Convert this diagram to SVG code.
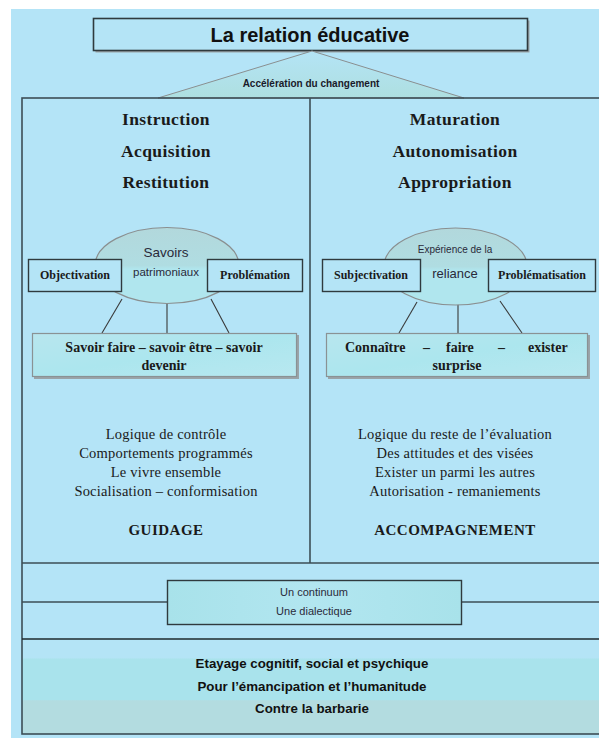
<svg xmlns="http://www.w3.org/2000/svg" width="599" height="738" viewBox="0 0 599 738">
<defs>
<linearGradient id="triG" x1="0" y1="0" x2="0" y2="1">
<stop offset="0" stop-color="#b4e4f6"/>
<stop offset="1" stop-color="#aedfe0"/>
</linearGradient>
<linearGradient id="ellG" x1="0" y1="0" x2="0" y2="1">
<stop offset="0" stop-color="#b2d8dc"/>
<stop offset="0.5" stop-color="#b0dde2"/>
<stop offset="0.55" stop-color="#b0e6ee"/>
<stop offset="1" stop-color="#b0e6ee"/>
</linearGradient>
<linearGradient id="boxG" x1="0" y1="0" x2="1" y2="1">
<stop offset="0" stop-color="#b8e6ee"/>
<stop offset="0.5" stop-color="#ace6ee"/>
<stop offset="1" stop-color="#b8e8f0"/>
</linearGradient>
<linearGradient id="contG" x1="0" y1="0" x2="1" y2="0">
<stop offset="0" stop-color="#a8e2ea"/>
<stop offset="0.5" stop-color="#b2e6f0"/>
<stop offset="1" stop-color="#a8e2ea"/>
</linearGradient>
<linearGradient id="botG" x1="0" y1="0" x2="0" y2="1">
<stop offset="0" stop-color="#b4e4f6"/>
<stop offset="0.2" stop-color="#b4e4f6"/>
<stop offset="0.21" stop-color="#a9e3ec"/>
<stop offset="0.64" stop-color="#a9e3ec"/>
<stop offset="0.65" stop-color="#b3dce0"/>
<stop offset="1" stop-color="#b3dce0"/>
</linearGradient>
</defs>
<style>
.frame{fill:none;stroke:#3d4e56;stroke-width:1.6}
.sbox{fill:#b4e4f6;stroke:#2f3a3e;stroke-width:1.4}
.ell{fill:url(#ellG);stroke:#8a8f90;stroke-width:1.2}
.lbox{fill:url(#boxG);stroke:#8a9294;stroke-width:1.2}
.shadow{fill:#9aa4a8}
.conn{stroke:#3a3a3a;stroke-width:1.1;fill:none}
.h{font-family:"Liberation Serif","Times New Roman",serif;font-weight:bold;font-size:17.5px;fill:#1a1a1a;text-anchor:middle;letter-spacing:0.4px}
.lab{font-family:"Liberation Serif","Times New Roman",serif;font-weight:bold;font-size:12px;fill:#1a1a1a;text-anchor:middle}
.bt{font-family:"Liberation Serif","Times New Roman",serif;font-weight:bold;font-size:14px;fill:#1a1a1a;text-anchor:middle}
.lt{font-family:"Liberation Serif","Times New Roman",serif;font-size:14.5px;fill:#1a1a1a;text-anchor:middle;letter-spacing:0.2px}
.cap{font-family:"Liberation Serif","Times New Roman",serif;font-weight:bold;font-size:15px;fill:#1a1a1a;text-anchor:middle;letter-spacing:0.5px}
.sans{font-family:"Liberation Sans",Arial,sans-serif;fill:#2a2a3a;text-anchor:middle}
.et{font-family:"Liberation Sans",Arial,sans-serif;font-size:13.3px;font-weight:bold;fill:#111;text-anchor:middle}
</style>
<rect x="11" y="9" width="588" height="729" fill="#b4e4f7"/>

<g id="title">
<rect x="95.5" y="20.5" width="434" height="32" class="shadow"/>
<rect x="93.5" y="18.5" width="434" height="32" fill="#b4e4f6" stroke="#2f3a3e" stroke-width="1.6"/>
<text x="310" y="42" class="sans" style="font-size:20px;font-weight:bold;fill:#111">La relation éducative</text>
</g>

<g id="acceleration">
<polygon points="312,51 158,98 464,98" fill="url(#triG)" stroke="#8a8f90" stroke-width="1"/>
<text x="311" y="86.5" class="sans" style="font-size:10px;font-weight:bold;fill:#1a1a2a">Accélération du changement</text>
</g>

<g id="bottom-section">
<rect x="22" y="639" width="600" height="95" fill="url(#botG)"/>
</g>

<g id="frame">
<rect x="22" y="98" width="600" height="636" class="frame"/>
<line x1="310" y1="98" x2="310" y2="563" class="frame"/>
<line x1="22" y1="563" x2="605" y2="563" class="frame"/>
<line x1="22" y1="639" x2="605" y2="639" stroke="#1e2a2e" stroke-width="1.6"/>
<line x1="22" y1="602" x2="167" y2="602" class="frame"/>
<line x1="462" y1="602" x2="605" y2="602" class="frame"/>
</g>

<g id="left-headings">
<text x="166" y="125" class="h">Instruction</text>
<text x="166" y="157" class="h">Acquisition</text>
<text x="166" y="188" class="h">Restitution</text>
</g>

<g id="right-headings">
<text x="455" y="125" class="h">Maturation</text>
<text x="455" y="157" class="h">Autonomisation</text>
<text x="455" y="188" class="h">Appropriation</text>
</g>

<g id="connectors">
<line x1="122" y1="299" x2="102" y2="333" class="conn"/>
<line x1="167" y1="303" x2="167" y2="333" class="conn"/>
<line x1="211" y1="299" x2="229" y2="333" class="conn"/>
<line x1="417" y1="302" x2="399" y2="333" class="conn"/>
<line x1="458" y1="304" x2="458" y2="333" class="conn"/>
<line x1="500" y1="301" x2="522" y2="333" class="conn"/>
</g>

<g id="savoirs-patrimoniaux">
<ellipse cx="167" cy="265.5" rx="72" ry="38" class="ell"/>
<text x="166" y="257" class="sans" style="font-size:13.5px">Savoirs</text>
<text x="166" y="276" class="sans" style="font-size:11.5px">patrimoniaux</text>
</g>

<g id="objectivation">
<rect x="28.5" y="259.5" width="93" height="32" class="sbox"/>
<text x="75" y="279" class="lab">Objectivation</text>
</g>

<g id="problemation">
<rect x="207.5" y="259.5" width="95" height="32" class="sbox"/>
<text x="255" y="279" class="lab">Problémation</text>
</g>

<g id="savoir-faire">
<rect x="34" y="335" width="265" height="44" class="shadow"/>
<rect x="32.5" y="333.5" width="264" height="43" class="lbox"/>
<text x="164" y="352" class="bt">Savoir faire – savoir être – savoir</text>
<text x="164" y="370" class="bt">devenir</text>
</g>

<g id="experience-reliance">
<ellipse cx="455.5" cy="266.5" rx="71.5" ry="38.5" class="ell"/>
<text x="455" y="252.5" class="sans" style="font-size:10px">Expérience de la</text>
<text x="455" y="277.5" class="sans" style="font-size:13px">reliance</text>
</g>

<g id="subjectivation">
<rect x="322.5" y="259.5" width="98" height="32" class="sbox"/>
<text x="371" y="279" class="lab">Subjectivation</text>
</g>

<g id="problematisation">
<rect x="488.5" y="259.5" width="107" height="32" class="sbox"/>
<text x="542" y="279" class="lab">Problématisation</text>
</g>

<g id="connaitre">
<rect x="328" y="335" width="262" height="44" class="shadow"/>
<rect x="326.5" y="333.5" width="261" height="43" class="lbox"/>
<text y="352" class="bt" style="text-anchor:start"><tspan x="345">Connaître</tspan><tspan x="423">–</tspan><tspan x="446">faire</tspan><tspan x="498">–</tspan><tspan x="528">exister</tspan></text>
<text x="457" y="370" class="bt">surprise</text>
</g>

<g id="guidage">
<text x="166" y="439" class="lt">Logique de contrôle</text>
<text x="166" y="458" class="lt">Comportements programmés</text>
<text x="166" y="477" class="lt">Le vivre ensemble</text>
<text x="166" y="496" class="lt">Socialisation – conformisation</text>
<text x="166" y="535" class="cap">GUIDAGE</text>
</g>

<g id="accompagnement">
<text x="455" y="439" class="lt">Logique du reste de l’évaluation</text>
<text x="455" y="458" class="lt">Des attitudes et des visées</text>
<text x="455" y="477" class="lt">Exister un parmi les autres</text>
<text x="455" y="496" class="lt">Autorisation - remaniements</text>
<text x="455" y="535" class="cap">ACCOMPAGNEMENT</text>
</g>

<g id="continuum">
<rect x="167.5" y="580.5" width="294" height="44" fill="url(#contG)" stroke="#2f3a3e" stroke-width="1.4"/>
<text x="314" y="596" class="sans" style="font-size:11px">Un continuum</text>
<text x="314" y="615" class="sans" style="font-size:11px">Une dialectique</text>
</g>

<g id="etayage">
<text x="312" y="667.5" class="et">Etayage cognitif, social et psychique</text>
<text x="312" y="690.5" class="et">Pour l’émancipation et l’humanitude</text>
<text x="312" y="712.5" class="et">Contre la barbarie</text>
</g>
</svg>
